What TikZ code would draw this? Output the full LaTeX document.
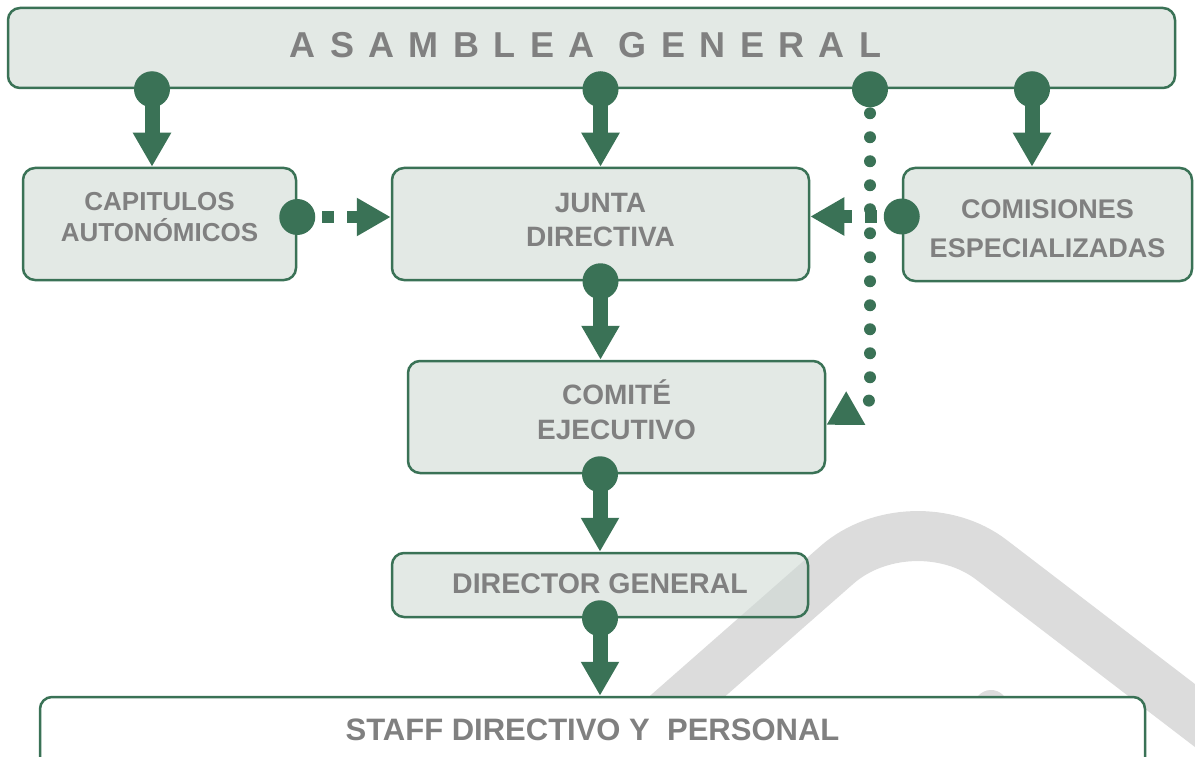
\documentclass[tikz,border=0pt]{standalone}
\usepackage{fontspec}
\setmainfont{Liberation Sans}
\newfontfamily\spacedfont[LetterSpace=40]{Liberation Sans}
\usetikzlibrary{arrows.meta,positioning}
\definecolor{orggreen}{HTML}{3A7256}
\definecolor{orgtext}{HTML}{808080}
\definecolor{orgfill}{HTML}{D0DAD4}
\definecolor{markgray}{HTML}{DCDCDC}
\begin{document}
\begin{tikzpicture}[x=1pt,y=-1pt,
    box/.style={draw=orggreen,line width=2.5pt,rounded corners=12pt,fill=orgfill,fill opacity=.6,text opacity=1,text=orgtext,align=center,inner sep=0pt},
    flow/.style={draw=orggreen,line width=15pt,-{Triangle[length=34pt,width=36pt]}},
    dashflow/.style={flow,line width=12pt,dash pattern=on 12pt off 13pt},
    dotflow/.style={flow,line width=12pt,line cap=round,dash pattern=on 0pt off 24pt},
    knob/.style={circle,fill=orggreen,minimum size=36pt,inner sep=0pt}]
    \useasboundingbox (0,0) rectangle (1195,757);

    % watermark
    \draw[markgray,line width=50pt,rounded corners=100pt] (600,773) -- (912,499) -- (1240,750);
    \draw[markgray,line width=34pt,line cap=round] (991,707) -- (1030,760);

    \node[box,minimum width=1167pt,minimum height=80pt,font=\bfseries\fontsize{36}{40}\selectfont,text height=26pt,text depth=6pt] at (591.5,48) (asam) {\spacedfont ASAMBLEA GENERAL\hspace{12pt}};
    \node[box,minimum width=273pt,minimum height=112pt,font=\bfseries\fontsize{26}{31}\selectfont,text height=49.6pt,text depth=15.3pt] at (159.5,224) (cap) {CAPITULOS\\AUTONÓMICOS};
    \node[box,minimum width=417pt,minimum height=112pt,font=\bfseries\fontsize{28}{35}\selectfont,text height=55pt,text depth=9pt] at (600.5,224) (junta) {JUNTA\\DIRECTIVA};
    \node[box,minimum width=289pt,minimum height=113pt,font=\bfseries\fontsize{27}{39}\selectfont,text height=65pt,text depth=0pt] at (1047.5,224.5) (com) {COMISIONES\\ESPECIALIZADAS};
    \node[box,minimum width=417pt,minimum height=112pt,font=\bfseries\fontsize{28}{35}\selectfont,text height=55pt,text depth=10.7pt] at (616.5,417) (comite) {COMITÉ\\EJECUTIVO};
    \node[box,minimum width=416pt,minimum height=64pt,font=\bfseries\fontsize{28.5}{34}\selectfont,text height=20.4pt,text depth=3.4pt] at (600,585) (dir) {DIRECTOR GENERAL};
    \node[box,fill=white,fill opacity=1,minimum width=1105pt,minimum height=78pt,font=\bfseries\fontsize{31}{37}\selectfont,text height=22.2pt,text depth=13.8pt] at (592.5,736) (staff) {STAFF DIRECTIVO Y\ \ PERSONAL};

    \coordinate (capin) at ([xshift=-7.5pt]cap.north);
    \coordinate (comin) at ([xshift=-15.5pt]com.north);
    \coordinate (capout) at ([yshift=7pt]cap.east);
    \coordinate (comout) at ([yshift=8pt]com.west);
    \coordinate (bend) at (870,400);

    \draw[flow] (asam.south -| capin) node[knob] {} -- (capin);
    \draw[flow] (asam.south -| junta) node[knob] {} -- (junta.north);
    \draw[flow] (asam.south -| comin) node[knob] {} -- (comin);
    \draw[dotflow] (asam.south -| bend) node[knob] {} -- (bend) -- ([yshift=-8pt]comite.east);
    \draw[dashflow] (capout) node[knob] {} -- (capout -| junta.west);
    \draw[dashflow] (comout) node[knob] {} -- (comout -| junta.east);
    \draw[flow] (junta.south) node[knob] {} -- (junta.south |- comite.north);
    \draw[flow] (comite.south -| dir) node[knob] {} -- (dir.north);
    \draw[flow] (dir.south) node[knob] {} -- (staff.north -| dir);
\end{tikzpicture}
\end{document}
